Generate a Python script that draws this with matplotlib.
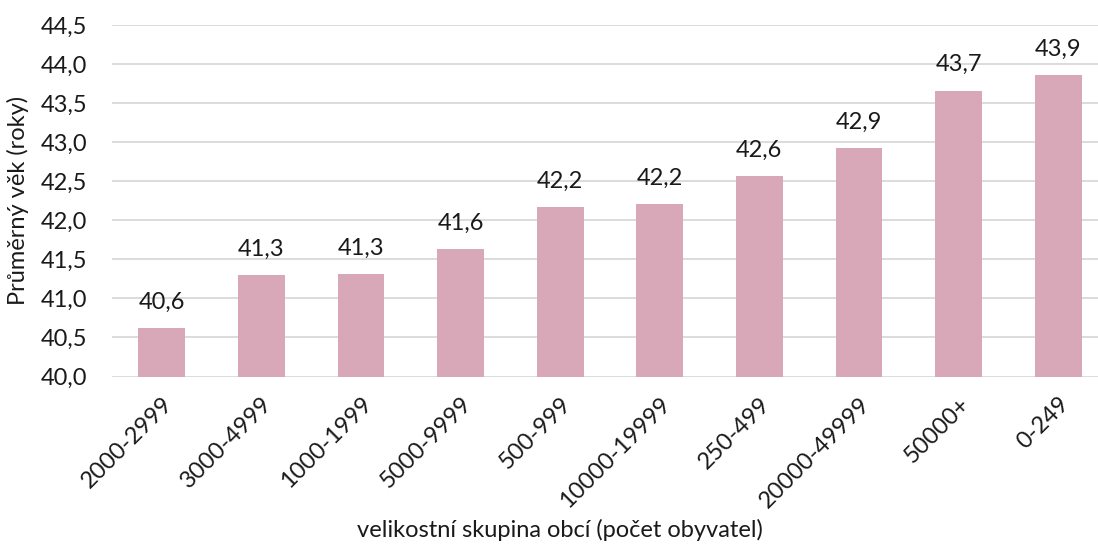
import matplotlib
matplotlib.use("Agg")
import matplotlib.pyplot as plt

categories = ["2000-2999", "3000-4999", "1000-1999", "5000-9999", "500-999",
              "10000-19999", "250-499", "20000-49999", "50000+", "0-249"]
values = [40.62, 41.30, 41.31, 41.63, 42.17, 42.21, 42.57, 42.93, 43.66, 43.86]
yticks = [40.0, 40.5, 41.0, 41.5, 42.0, 42.5, 43.0, 43.5, 44.0, 44.5]

plt.rcParams['font.family'] = ['Lato', 'DejaVu Sans']
text_color = "#1a1a1a"
fs = 17

fig = plt.figure(figsize=(10.98, 5.47), dpi=100)
W, H = 1098, 547
ax = fig.add_axes([112 / W, 1 - 376.5 / H, (1108 - 112) / W, (376.5 - 25) / H])

x = list(range(len(categories)))
bars = ax.bar(x, values, width=0.47, color="#D8A7B8", zorder=3)

ax.set_xlim(-0.5, len(categories) - 0.5)
ax.set_ylim(40.0, 44.5)
ax.set_yticks(yticks)
ax.set_yticklabels([f"{t:.1f}".replace(".", ",") for t in yticks],
                   fontsize=fs, color=text_color)
ax.set_xticks(x)
ax.set_xticklabels(categories, rotation=45, ha="right", rotation_mode="anchor",
                   fontsize=fs, color=text_color)
ax.tick_params(axis="both", length=0)
ax.tick_params(axis="y", pad=18)
ax.tick_params(axis="x", pad=12)

ax.yaxis.grid(True, color="#D9D9D9", linewidth=1.3, zorder=0)
for s in ax.spines.values():
    s.set_visible(False)

for xi, v in zip(x, values):
    ax.annotate(f"{v:.1f}".replace(".", ","), (xi, v), xytext=(0, 11),
                textcoords="offset points", ha="center", va="bottom",
                fontsize=fs, color=text_color)

fig.text(18 / W, 1 - 200 / H, "Průměrný věk (roky)", rotation=90,
         ha="center", va="center", fontsize=fs, color=text_color)
fig.text(560 / W, 1 - 530 / H, "velikostní skupina obcí (počet obyvatel)",
         ha="center", va="center", fontsize=fs, color=text_color)

fig.savefig("out.png", dpi=100)
